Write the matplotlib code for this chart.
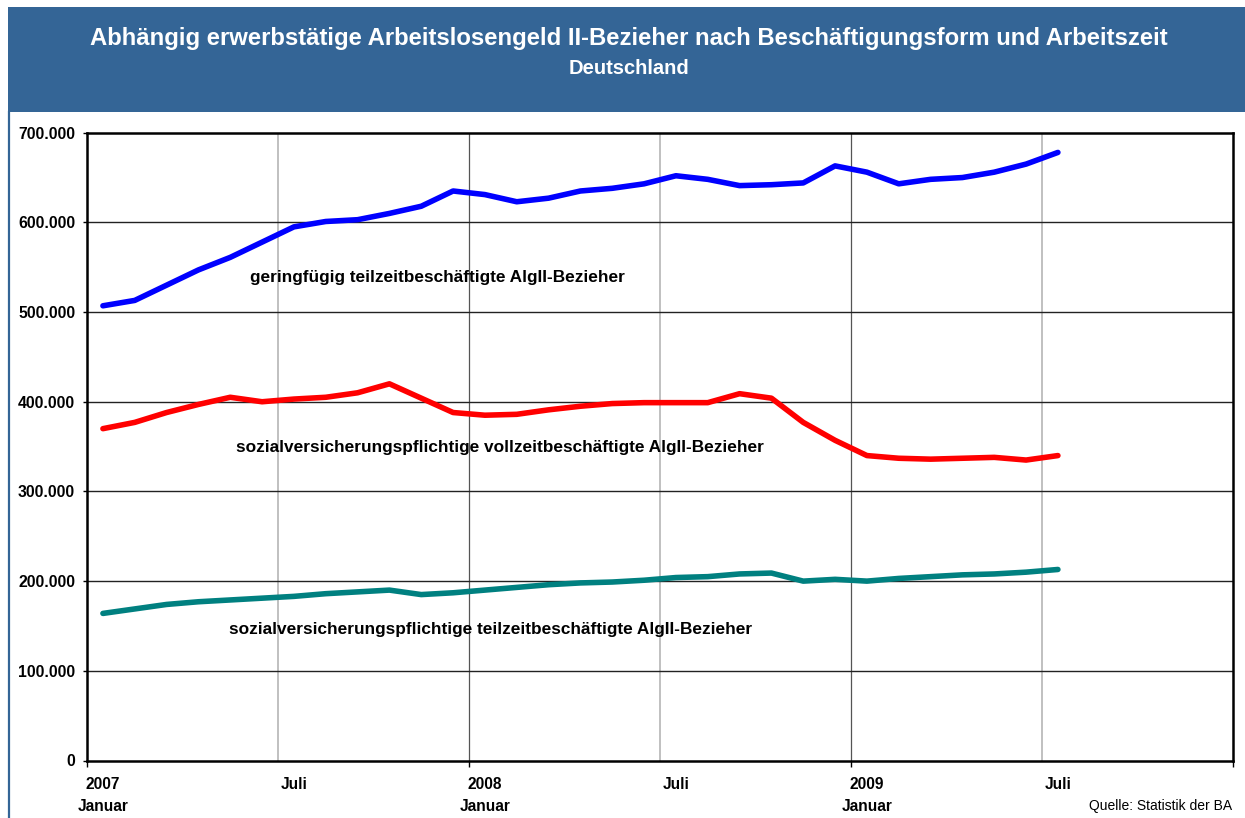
import matplotlib
matplotlib.use("Agg")
import matplotlib.pyplot as plt
from matplotlib.patches import Rectangle
from matplotlib.lines import Line2D
import numpy as np

plt.rcParams['font.family'] = ['Liberation Sans', 'DejaVu Sans']

title = "Abhängig erwerbstätige Arbeitslosengeld II-Bezieher nach Beschäftigungsform und Arbeitszeit"
subtitle = "Deutschland"
source = "Quelle: Statistik der BA"

# monthly values Jan 2007 .. Jul 2009 (in thousand persons)
geringfuegig = [507, 513, 530, 547, 561, 578, 595, 601, 603, 610, 618, 635, 631,
                623, 627, 635, 638, 643, 652, 648, 641, 642, 644, 663, 656,
                643, 648, 650, 656, 665, 678]
vollzeit = [370, 377, 388, 397, 405, 400, 403, 405, 410, 420, 404, 388, 385,
            386, 391, 395, 398, 399, 399, 399, 409, 404, 377, 357, 340,
            337, 336, 337, 338, 335, 340]
teilzeit = [164, 169, 174, 177, 179, 181, 183, 186, 188, 190, 185, 187, 190,
            193, 196, 198, 199, 201, 204, 205, 208, 209, 200, 202, 200,
            203, 205, 207, 208, 210, 213]
geringfuegig = [v * 1000 for v in geringfuegig]
vollzeit = [v * 1000 for v in vollzeit]
teilzeit = [v * 1000 for v in teilzeit]

series_labels = ["geringfügig teilzeitbeschäftigte AlgII-Bezieher",
                 "sozialversicherungspflichtige vollzeitbeschäftigte AlgII-Bezieher",
                 "sozialversicherungspflichtige teilzeitbeschäftigte AlgII-Bezieher"]
label_y = [539000, 349500, 146500]
label_x = [4.62, 4.18, 3.96]

x_tick_pos = [0, 6, 12, 18, 24, 30]
x_tick_labels = ["2007\nJanuar", "Juli", "2008\nJanuar", "Juli", "2009\nJanuar", "Juli"]
y_ticks = [0, 100000, 200000, 300000, 400000, 500000, 600000, 700000]
y_tick_labels = ["0", "100.000", "200.000", "300.000", "400.000", "500.000", "600.000", "700.000"]

W, H = 1245, 818
fig = plt.figure(figsize=(W / 100, H / 100), dpi=100)
fig.patch.set_facecolor('white')

banner_col = '#346596'
fig.add_artist(Rectangle((8 / W, 1 - 112 / H), 1 - 8 / W, 105 / H, transform=fig.transFigure,
                         facecolor=banner_col, edgecolor='none'))
fig.add_artist(Line2D([8.5 / W, 8.5 / W], [0, 1 - 112 / H], transform=fig.transFigure,
                      color=banner_col, lw=1.6))
fig.text(629 / W, 1 - 39 / H, title, ha='center', va='center', color='white',
         fontsize=17.2, fontweight='bold')
fig.text(629 / W, 1 - 68 / H, subtitle, ha='center', va='center', color='white',
         fontsize=14.5, fontweight='bold')

ax = fig.add_axes([87 / W, 1 - 760.5 / H, (1233 - 87) / W, (760.5 - 132.7) / H])
x = np.arange(len(geringfuegig))

# vertical category gridlines
for k in range(1, 6):
    xv = -0.5 + 6 * k
    col = '#555555' if k % 2 == 0 else '#c0c0c0'
    lw = 0.9 if k % 2 == 0 else 1.4
    ax.axvline(xv, color=col, lw=lw, zorder=1)
for yv in y_ticks[1:-1]:
    ax.axhline(yv, color='#222222', lw=1.0, zorder=1)

ax.plot(x, geringfuegig, color='#0000ff', lw=4.0, solid_capstyle='round', solid_joinstyle='round', zorder=3)
ax.plot(x, vollzeit, color='#ff0000', lw=4.0, solid_capstyle='round', solid_joinstyle='round', zorder=3)
ax.plot(x, teilzeit, color='#008080', lw=4.0, solid_capstyle='round', solid_joinstyle='round', zorder=3)

for lbl, lx, ly in zip(series_labels, label_x, label_y):
    ax.text(lx, ly, lbl, ha='left', va='center', fontsize=12.4, fontweight='bold', color='black', zorder=4)

ax.set_xlim(-0.5, 35.5)
ax.set_ylim(0, 700000)
ax.set_yticks(y_ticks)
ax.set_yticklabels(y_tick_labels, fontsize=11.3, fontweight='bold')
ax.set_xticks(x_tick_pos)
ax.set_xticklabels(x_tick_labels, fontsize=11.2, fontweight='bold', linespacing=1.55, va='top')
ax.tick_params(axis='x', length=0, pad=12)
ax.tick_params(axis='y', length=3, width=1, pad=5.5)
ax.set_xticks([-0.5, 11.5, 23.5, 35.5], minor=True)
ax.tick_params(axis='x', which='minor', length=4, width=1)
for s in ax.spines.values():
    s.set_linewidth(1.8)
    s.set_color('black')

fig.text(1232 / W, 1 - 806 / H, source, ha='right', va='center', fontsize=10, color='black')

fig.savefig('out.png', dpi=100)
